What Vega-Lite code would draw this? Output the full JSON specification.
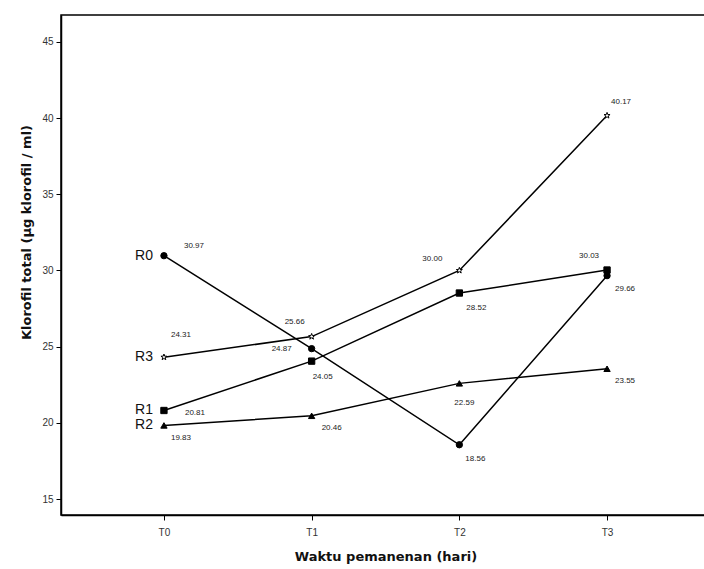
{
  "$schema": "https://vega.github.io/schema/vega-lite/v6.json",
  "width": 649,
  "height": 500,
  "autosize": {"type": "none"},
  "padding": {"left": 61, "top": 15, "right": 0, "bottom": 54},
  "background": "white",
  "config": {
    "view": {"stroke": "black", "strokeWidth": 1.5}
  },
  "data": {
    "values": [
      {"id": "R0-T0", "series": "R0", "time": "T0", "value": 30.97},
      {"id": "R0-T1", "series": "R0", "time": "T1", "value": 24.87},
      {"id": "R0-T2", "series": "R0", "time": "T2", "value": 18.56},
      {"id": "R0-T3", "series": "R0", "time": "T3", "value": 29.66},
      {"id": "R1-T0", "series": "R1", "time": "T0", "value": 20.81},
      {"id": "R1-T1", "series": "R1", "time": "T1", "value": 24.05},
      {"id": "R1-T2", "series": "R1", "time": "T2", "value": 28.52},
      {"id": "R1-T3", "series": "R1", "time": "T3", "value": 30.03},
      {"id": "R2-T0", "series": "R2", "time": "T0", "value": 19.83},
      {"id": "R2-T1", "series": "R2", "time": "T1", "value": 20.46},
      {"id": "R2-T2", "series": "R2", "time": "T2", "value": 22.59},
      {"id": "R2-T3", "series": "R2", "time": "T3", "value": 23.55},
      {"id": "R3-T0", "series": "R3", "time": "T0", "value": 24.31},
      {"id": "R3-T1", "series": "R3", "time": "T1", "value": 25.66},
      {"id": "R3-T2", "series": "R3", "time": "T2", "value": 30.00},
      {"id": "R3-T3", "series": "R3", "time": "T3", "value": 40.17}
    ]
  },
  "encoding": {
    "x": {
      "field": "time", "type": "ordinal",
      "scale": {"type": "point", "domain": ["T0", "T1", "T2", "T3"], "padding": 0.697},
      "axis": {
        "title": "Waktu pemanenan (hari)",
        "titleFont": "DejaVu Sans", "titleFontSize": 13, "titleFontWeight": "bold", "titleColor": "#111",
        "titlePadding": 13,
        "labelAngle": 0, "labelFont": "Liberation Sans", "labelFontSize": 10, "labelColor": "#333", "labelPadding": 7,
        "tickColor": "black", "tickSize": 5, "domainColor": "black", "domainWidth": 1.5, "grid": false
      }
    },
    "y": {
      "field": "value", "type": "quantitative",
      "scale": {"domain": [13.95, 46.77], "nice": false, "zero": false},
      "axis": {
        "title": "Klorofil total (µg klorofil / ml)",
        "titleFont": "DejaVu Sans", "titleFontSize": 13, "titleFontWeight": "bold", "titleColor": "#111",
        "titlePadding": 8, "titleY": 217,
        "values": [15, 20, 25, 30, 35, 40, 45],
        "labelFont": "Liberation Sans", "labelFontSize": 10, "labelColor": "#333", "labelPadding": 3,
        "tickColor": "black", "tickSize": 5, "domainColor": "black", "domainWidth": 1.5, "grid": false
      }
    }
  },
  "layer": [
    {
      "mark": {"type": "line", "color": "black", "strokeWidth": 1.5},
      "encoding": {"detail": {"field": "series", "type": "nominal"}}
    },
    {
      "mark": {"type": "point", "stroke": "black", "strokeWidth": 1, "opacity": 1},
      "encoding": {
        "shape": {"field": "series", "type": "nominal", "scale": {"domain": ["R0", "R1", "R2", "R3"], "range": ["circle", "square", "triangle-up", "M0,-1L0.235,-0.324L0.951,-0.309L0.38,0.124L0.588,0.809L0,0.4L-0.588,0.809L-0.38,0.124L-0.951,-0.309L-0.235,-0.324Z"]}, "legend": null},
        "fill": {"field": "series", "type": "nominal", "scale": {"domain": ["R0", "R1", "R2", "R3"], "range": ["black", "black", "black", "white"]}, "legend": null},
        "size": {"field": "series", "type": "ordinal", "scale": {"domain": ["R0", "R1", "R2", "R3"], "range": [40, 40, 40, 320]}, "legend": null}
      }
    },
    {
      "transform": [{"filter": "datum.time == 'T0'"}],
      "mark": {"type": "text", "font": "Liberation Sans", "align": "right", "baseline": "middle", "dx": -11, "fontSize": 14, "color": "#111"},
      "encoding": {"text": {"field": "series", "type": "nominal"}}
    },
    {"transform": [{"filter": "datum.id == 'R0-T0'"}], "mark": {"type": "text", "font": "Liberation Sans", "fontSize": 8, "color": "#222", "dx": 30, "dy": -10}, "encoding": {"text": {"field": "value", "type": "quantitative", "format": ".2f"}}},
    {"transform": [{"filter": "datum.id == 'R3-T0'"}], "mark": {"type": "text", "font": "Liberation Sans", "fontSize": 8, "color": "#222", "dx": 17, "dy": -22}, "encoding": {"text": {"field": "value", "type": "quantitative", "format": ".2f"}}},
    {"transform": [{"filter": "datum.id == 'R1-T0'"}], "mark": {"type": "text", "font": "Liberation Sans", "fontSize": 8, "color": "#222", "dx": 31, "dy": 3}, "encoding": {"text": {"field": "value", "type": "quantitative", "format": ".2f"}}},
    {"transform": [{"filter": "datum.id == 'R2-T0'"}], "mark": {"type": "text", "font": "Liberation Sans", "fontSize": 8, "color": "#222", "dx": 17, "dy": 13}, "encoding": {"text": {"field": "value", "type": "quantitative", "format": ".2f"}}},
    {"transform": [{"filter": "datum.id == 'R0-T1'"}], "mark": {"type": "text", "font": "Liberation Sans", "fontSize": 8, "color": "#222", "dx": -30, "dy": 0}, "encoding": {"text": {"field": "value", "type": "quantitative", "format": ".2f"}}},
    {"transform": [{"filter": "datum.id == 'R3-T1'"}], "mark": {"type": "text", "font": "Liberation Sans", "fontSize": 8, "color": "#222", "dx": -17, "dy": -15}, "encoding": {"text": {"field": "value", "type": "quantitative", "format": ".2f"}}},
    {"transform": [{"filter": "datum.id == 'R1-T1'"}], "mark": {"type": "text", "font": "Liberation Sans", "fontSize": 8, "color": "#222", "dx": 11, "dy": 16}, "encoding": {"text": {"field": "value", "type": "quantitative", "format": ".2f"}}},
    {"transform": [{"filter": "datum.id == 'R2-T1'"}], "mark": {"type": "text", "font": "Liberation Sans", "fontSize": 8, "color": "#222", "dx": 20, "dy": 12}, "encoding": {"text": {"field": "value", "type": "quantitative", "format": ".2f"}}},
    {"transform": [{"filter": "datum.id == 'R3-T2'"}], "mark": {"type": "text", "font": "Liberation Sans", "fontSize": 8, "color": "#222", "dx": -27, "dy": -11}, "encoding": {"text": {"field": "value", "type": "quantitative", "format": ".2f"}}},
    {"transform": [{"filter": "datum.id == 'R1-T2'"}], "mark": {"type": "text", "font": "Liberation Sans", "fontSize": 8, "color": "#222", "dx": 17, "dy": 15}, "encoding": {"text": {"field": "value", "type": "quantitative", "format": ".2f"}}},
    {"transform": [{"filter": "datum.id == 'R2-T2'"}], "mark": {"type": "text", "font": "Liberation Sans", "fontSize": 8, "color": "#222", "dx": 5, "dy": 20}, "encoding": {"text": {"field": "value", "type": "quantitative", "format": ".2f"}}},
    {"transform": [{"filter": "datum.id == 'R0-T2'"}], "mark": {"type": "text", "font": "Liberation Sans", "fontSize": 8, "color": "#222", "dx": 16, "dy": 14}, "encoding": {"text": {"field": "value", "type": "quantitative", "format": ".2f"}}},
    {"transform": [{"filter": "datum.id == 'R3-T3'"}], "mark": {"type": "text", "font": "Liberation Sans", "fontSize": 8, "color": "#222", "dx": 14, "dy": -14}, "encoding": {"text": {"field": "value", "type": "quantitative", "format": ".2f"}}},
    {"transform": [{"filter": "datum.id == 'R1-T3'"}], "mark": {"type": "text", "font": "Liberation Sans", "fontSize": 8, "color": "#222", "dx": -18, "dy": -14}, "encoding": {"text": {"field": "value", "type": "quantitative", "format": ".2f"}}},
    {"transform": [{"filter": "datum.id == 'R0-T3'"}], "mark": {"type": "text", "font": "Liberation Sans", "fontSize": 8, "color": "#222", "dx": 18, "dy": 13}, "encoding": {"text": {"field": "value", "type": "quantitative", "format": ".2f"}}},
    {"transform": [{"filter": "datum.id == 'R2-T3'"}], "mark": {"type": "text", "font": "Liberation Sans", "fontSize": 8, "color": "#222", "dx": 18, "dy": 12}, "encoding": {"text": {"field": "value", "type": "quantitative", "format": ".2f"}}}
  ]
}
